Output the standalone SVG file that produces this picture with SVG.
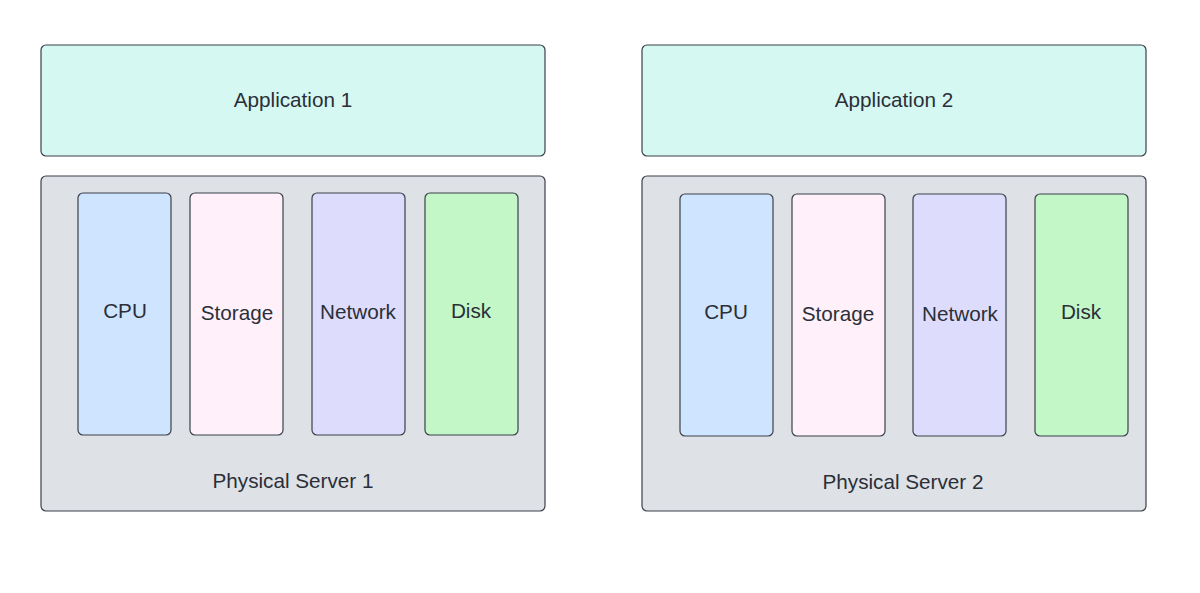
<svg xmlns="http://www.w3.org/2000/svg" width="1200" height="593" viewBox="0 0 1200 593">
<style>
rect{stroke:#3a414a;stroke-width:1.2}
.app{fill:#d6f8f2}
.srv{fill:#dee1e5}
.cpu{fill:#cfe4ff}
.sto{fill:#fff0fa}
.net{fill:#dedcfd}
.dsk{fill:#c3f7c8}
text{font-family:"Liberation Sans",Arial,sans-serif;font-size:20.7px;fill:#2a2f38;text-anchor:middle;dominant-baseline:central}
</style>
<rect width="1200" height="593" fill="#ffffff" style="stroke:none"/>
<g id="app1"><rect class="app" x="41" y="45" width="504" height="111" rx="5"/><text x="293" y="99">Application 1</text></g>
<g id="app2"><rect class="app" x="642" y="45" width="504" height="111" rx="5"/><text x="894" y="99">Application 2</text></g>
<g id="server1"><rect class="srv" x="41" y="176" width="504" height="335" rx="5"/><text x="293" y="480">Physical Server 1</text></g>
<g id="server2"><rect class="srv" x="642" y="176" width="504" height="335" rx="5"/><text x="903" y="481">Physical Server 2</text></g>
<g id="cpu1"><rect class="cpu" x="78" y="193" width="93" height="242" rx="5"/><text x="125" y="310">CPU</text></g>
<g id="storage1"><rect class="sto" x="190" y="193" width="93" height="242" rx="5"/><text x="237" y="312">Storage</text></g>
<g id="network1"><rect class="net" x="312" y="193" width="93" height="242" rx="5"/><text x="358" y="311">Network</text></g>
<g id="disk1"><rect class="dsk" x="425" y="193" width="93" height="242" rx="5"/><text x="471" y="310">Disk</text></g>
<g id="cpu2"><rect class="cpu" x="680" y="194" width="93" height="242" rx="5"/><text x="726" y="311">CPU</text></g>
<g id="storage2"><rect class="sto" x="792" y="194" width="93" height="242" rx="5"/><text x="838" y="313">Storage</text></g>
<g id="network2"><rect class="net" x="913" y="194" width="93" height="242" rx="5"/><text x="960" y="313">Network</text></g>
<g id="disk2"><rect class="dsk" x="1035" y="194" width="93" height="242" rx="5"/><text x="1081" y="311">Disk</text></g>
<g id="connectors"></g>
</svg>
